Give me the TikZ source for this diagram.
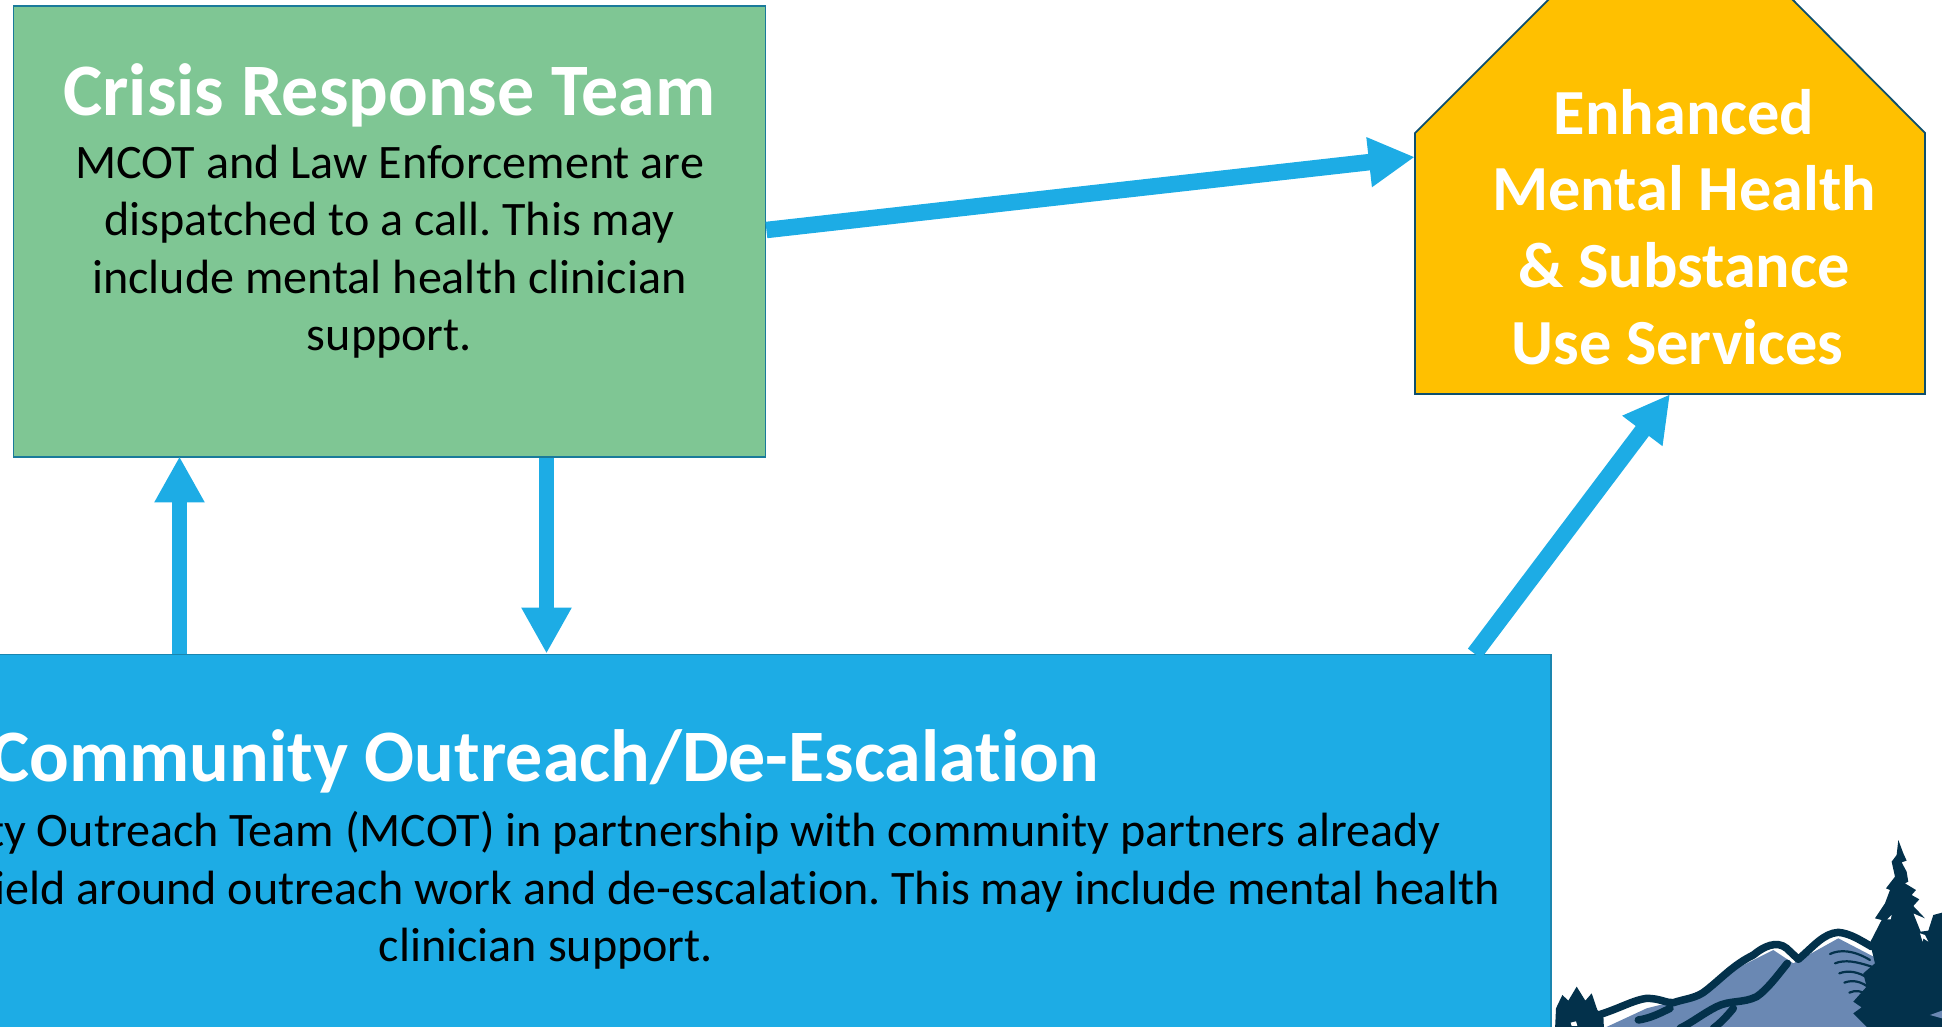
\documentclass[tikz,border=0pt]{standalone}
\usepackage{fontspec}
\setmainfont{Carlito}[Ligatures=NoCommon]
\frenchspacing
\usetikzlibrary{arrows.meta}
\definecolor{skyfill}{HTML}{1DACE5}
\definecolor{skyline}{HTML}{1A86B0}
\definecolor{greenfill}{HTML}{7FC694}
\definecolor{greenline}{HTML}{1A7A9A}
\definecolor{amberfill}{HTML}{FFC000}
\definecolor{amberline}{HTML}{0E4F6E}
\definecolor{logodark}{HTML}{03314B}
\definecolor{logolight}{HTML}{6A88B3}
\tikzset{
  flow/.style={draw=skyfill,line width=15pt,-{Triangle[width=47pt,length=46pt,fill=skyfill]}},
  flowthick/.style={flow,line width=16.5pt},
  boxshape/.style={rectangle,inner sep=0pt,line width=1.8pt},
  titletext/.style={inner sep=0pt,anchor=base,font=\fontsize{74}{88}\selectfont\bfseries,text=white},
  bodytext/.style={inner sep=0pt,font=\fontsize{48.1}{57.5}\selectfont,text=black,frenchspacing},
  housetext/.style={inner sep=0pt,align=center,font=\fontsize{64.3}{76.7}\selectfont\bfseries,text=white},
  ridge/.style={draw=logodark,line width=7.5pt,line cap=round,line join=round},
  fold/.style={draw=logodark,line width=2.2pt,line cap=round},
  frenchspacing/.code={\frenchspacing}
}
\begin{document}
\begin{tikzpicture}[x=1pt,y=-1pt]
\useasboundingbox (0,0) rectangle (1942,1026);
\clip (0,0) rectangle (1942,1026);
% boxes
\node[boxshape,draw=greenline,fill=greenfill,minimum width=752pt,minimum height=451pt] (crisis) at (389.5,231.5) {};
\node[boxshape,draw=skyline,fill=skyfill,minimum width=1555pt,minimum height=374pt] (outreach) at (773.5,841.5) {};
\filldraw[amberfill,draw=amberline,line width=1.8pt,line join=miter]
  (1415,133) -- (1552,-4) -- (1789,-4) -- (1925,133) -- (1925,394) -- (1415,394) -- cycle;
\node[inner sep=0pt,minimum width=510pt,minimum height=261pt] (services) at (1670,263.5) {};
% connectors
\draw[flow] ([xshift=-594pt]outreach.north) -- ([xshift=-210pt,yshift=1.5pt]crisis.south);
\draw[flow] ([xshift=157pt]crisis.south) -- ([xshift=-227pt]outreach.north);
\draw[flowthick] ([yshift=1.5pt]crisis.east) -- ([yshift=106.5pt]services.west);
\draw[flowthick] ([xshift=701pt]outreach.north) -- (services.south);
% texts
\node[titletext] (crisistitle) at (389.5,115) {Crisis Response Team};
\node[bodytext,align=center] (crisisbody) at (389.5,251.5) {MCOT and Law Enforcement are\\dispatched to a call. This may\\include mental health clinician\\support.};
\node[housetext] (housetext) at (1684,227) {Enhanced\\Mental Health\\\&~Substance\\Use Services\hspace*{13pt}};
\node[titletext] (outreachtitle) at (544.5,781) {Community Outreach/De-Escalation};
\node[bodytext,anchor=base east] (outreachone) at (1441,846.5) {ty Outreach Team (MCOT) in partnership with community partners already};
\node[bodytext,anchor=base east] (outreachtwo) at (1500,904) {ield around outreach work and de-escalation. This may include mental health};
\node[bodytext,anchor=base] (outreachthree) at (546,961) {clinician support.};
% logo
\begin{scope}[shift={(1500,800)},x=0.3333pt,y=-0.3333pt]
  \fill[logolight] (300,690) -- (440,625) -- (520,605) -- (600,585) -- (700,510) -- (820,450) -- (880,490) -- (1015,415) -- (1140,480) -- (1140,690) -- cycle;
  \draw[ridge] (295,645) .. controls (360,625) and (400,600) .. (440,595) .. controls (480,595) and (500,610) .. (520,608)
     .. controls (560,595) and (590,595) .. (620,570) .. controls (670,530) and (700,495) .. (760,465)
     .. controls (790,440) and (830,420) .. (860,445) -- (895,478) .. controls (940,440) and (970,400) .. (1015,397)
     .. controls (1050,400) and (1080,420) .. (1115,440);
  \draw[ridge] (862,490) .. controls (830,530) and (800,570) .. (770,590) .. controls (730,610) and (690,600) .. (650,620)
     .. controls (610,640) and (580,665) .. (540,685);
  \draw[ridge] (415,660) .. controls (450,655) and (480,640) .. (510,625);
  \draw[ridge] (700,625) .. controls (680,650) and (660,670) .. (640,685);
  \draw[fold] (990,462) .. controls (1020,448) and (1060,450) .. (1110,480);
  \draw[fold] (1005,490) .. controls (1035,478) and (1070,485) .. (1115,500);
  \draw[fold] (1018,520) .. controls (1045,510) and (1075,515) .. (1105,535);
  \draw[fold] (1033,548) .. controls (1060,538) and (1085,545) .. (1110,565);
  \draw[fold] (1048,578) .. controls (1065,570) and (1085,572) .. (1105,585);
  \fill[logodark] (1195,120) -- (1210,160) -- (1220,182) -- (1205,187) -- (1220,215) -- (1225,245) -- (1215,250) -- (1248,270) -- (1235,285) -- (1258,298) -- (1240,318) -- (1275,355) -- (1240,340) -- (1262,395) -- (1285,392) -- (1300,345) -- (1326,338) -- (1326,690) -- (1110,690) -- (1060,640) -- (1085,622) -- (1060,605) -- (1100,560) -- (1090,520) -- (1125,490) -- (1110,428) -- (1145,360) -- (1125,355) -- (1155,310) -- (1170,270) -- (1158,265) -- (1185,230) -- (1175,185) -- (1190,165) -- cycle;
  \fill[logolight] (1290,645) -- (1326,632) -- (1326,655) -- cycle;
  \fill[white] (1162,358) -- (1175,345) -- (1172,358) -- cycle;
  \fill[white] (1260,400) -- (1275,405) -- (1285,425) -- (1270,415) -- (1268,425) -- cycle;
  \fill[logodark] (165,690) -- (168,625) -- (187,585) -- (205,602) -- (230,560) -- (256,602) -- (275,580) -- (292,630) -- (310,645) -- (312,690) -- cycle;
  \fill[white] (212,668) -- (228,664) -- (232,678) -- (215,678) -- cycle;
\end{scope}
\end{tikzpicture}
\end{document}
